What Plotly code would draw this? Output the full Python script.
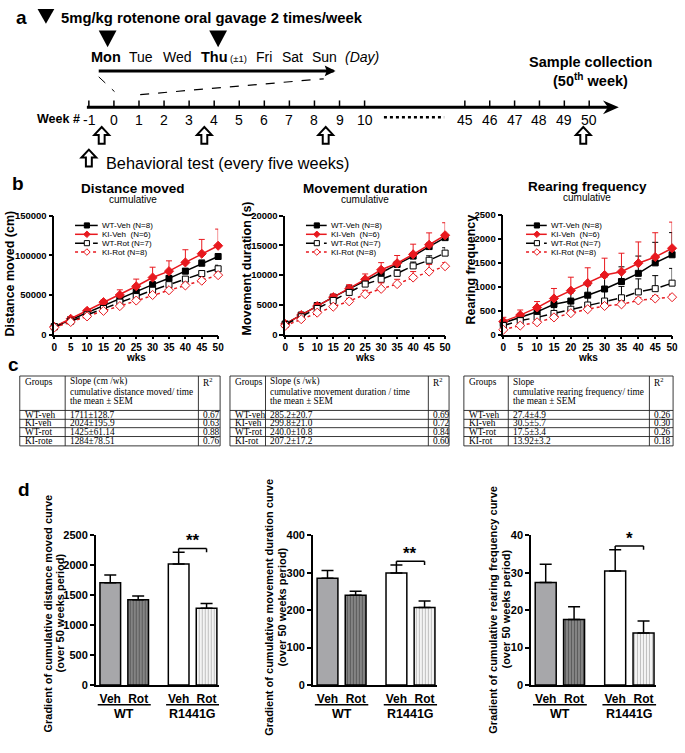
import plotly.graph_objects as go

W, H = 685, 753
def X(p): return p / W
def Y(p): return 1 - p / H

SANS = "Liberation Sans, Arial, Helvetica, sans-serif"
SERIF = "Liberation Serif, Times New Roman, serif"
RED = "#e8191f"

# ---------------- panel b data ----------------
weeks = [0, 5, 10, 15, 20, 25, 30, 35, 40, 45, 50]
series_names = ["WT-Veh (N=8)", "KI-Veh  (N=6)", "WT-Rot (N=7)", "KI-Rot (N=8)"]

dist_wt_veh = [10000, 19000, 28000, 37000, 46000, 54000, 63000, 71000, 80000, 90000, 98500]
dist_wt_veh_err = [800, 1000, 1500, 2000, 2500, 3000, 3000, 3500, 3500, 4000, 3500]
dist_ki_veh = [10000, 20000, 30000, 41000, 50000, 61000, 72000, 80000, 91000, 102000, 112000]
dist_ki_veh_err = [1000, 1500, 2000, 2500, 6500, 9000, 13000, 13000, 16000, 18000, 21000]
dist_wt_rot = [10000, 17000, 25000, 33000, 41000, 48000, 56000, 63000, 70000, 77000, 83000]
dist_wt_rot_err = [600, 800, 1000, 1500, 1500, 2000, 2500, 2500, 3000, 3500, 4500]
dist_ki_rot = [9000, 16000, 23000, 30000, 36000, 43000, 50000, 56000, 62000, 68000, 75000]
dist_ki_rot_err = [500, 800, 1000, 1500, 1500, 2000, 2000, 2500, 2500, 3000, 3000]

dur_wt_veh = [1800, 3300, 4900, 6300, 7700, 9000, 10400, 11800, 13200, 14800, 16300]
dur_wt_veh_err = [150, 200, 250, 300, 350, 400, 450, 500, 550, 600, 650]
dur_ki_veh = [1800, 3300, 4800, 6300, 7700, 9300, 10900, 12000, 13500, 15100, 16700]
dur_ki_veh_err = [200, 300, 400, 500, 700, 900, 1200, 1300, 1700, 2000, 2100]
dur_wt_rot = [1700, 3000, 4400, 5750, 7100, 8500, 9300, 10300, 11550, 12500, 13700]
dur_wt_rot_err = [150, 200, 250, 300, 400, 450, 550, 600, 650, 750, 900]
dur_ki_rot = [1500, 2600, 3700, 4700, 5600, 6800, 7700, 8500, 9600, 10600, 11500]
dur_ki_rot_err = [150, 200, 300, 400, 500, 650, 1000, 800, 1000, 1200, 600]

rear_wt_veh = [245, 360, 476, 632, 700, 822, 951, 1107, 1277, 1495, 1664]
rear_wt_veh_err = [50, 70, 90, 130, 170, 200, 250, 306, 360, 428, 462]
rear_ki_veh = [272, 408, 564, 754, 917, 1073, 1243, 1311, 1488, 1617, 1800]
rear_ki_veh_err = [90, 106, 126, 208, 280, 320, 350, 385, 443, 506, 544]
rear_wt_rot = [190, 292, 360, 442, 530, 618, 700, 768, 890, 958, 1073]
rear_wt_rot_err = [68, 68, 102, 122, 170, 184, 204, 237, 272, 272, 307]
rear_ki_rot = [102, 190, 258, 360, 448, 530, 598, 632, 713, 754, 781]
rear_ki_rot_err = [30, 35, 40, 45, 50, 50, 55, 55, 60, 60, 60]

# ---------------- panel c / d data ----------------
tbl1_groups = ["WT-veh", "KI-veh", "WT-rot", "KI-rote"]
tbl_groups = ["WT-veh", "KI-veh", "WT-rot", "KI-rot"]
dist_slope = [1711, 2024, 1425, 1284]
dist_sem = [128.7, 195.9, 61.14, 78.51]
dist_r2 = ["0.67", "0.63", "0.88", "0.76"]
dur_slope = ["285.2", "299.8", "240.0", "207.2"]
dur_sem = ["20.7", "21.0", "10.8", "17.2"]
dur_r2 = ["0.69", "0.72", "0.84", "0.60"]
rear_slope = ["27.4", "30.5", "17.5", "13.92"]
rear_sem = ["4.9", "5.7", "3.4", "3.2"]
rear_r2 = ["0.26", "0.30", "0.26", "0.18"]

bar_labels = ["Veh", "Rot", "Veh", "Rot"]
genotypes = ["WT", "R1441G"]
bar_order = [0, 2, 1, 3]   # table order -> WT-Veh, WT-Rot, KI-Veh, KI-Rot

week_labels = ["-1", "0", "1", "2", "3", "4", "5", "6", "7", "8", "9", "10",
               "45", "46", "47", "48", "49", "50"]
day_labels = ["Mon", "Tue", "Wed", "Thu", "Fri", "Sat", "Sun"]

fig = go.Figure()
shapes = []
ann = []

def text(x, y, t, size=12, bold=False, italic=False, xa="center", ya="middle",
         family=SANS, angle=0, color="black"):
    ann.append(dict(x=X(x), y=Y(y), xref="paper", yref="paper", text=t, align="left",
                    showarrow=False, xanchor=xa, yanchor=ya, textangle=angle,
                    font=dict(family=family, size=size, color=color,
                              weight="bold" if bold else "normal",
                              style="italic" if italic else "normal")))

def line(x0, y0, x1, y1, w=1.0, color="black", dash="solid"):
    shapes.append(dict(type="line", xref="paper", yref="paper", x0=X(x0), y0=Y(y0),
                       x1=X(x1), y1=Y(y1), line=dict(color=color, width=w, dash=dash)))

def poly(pts, fill="black", lw=0, lc="black"):
    path = "M " + " L ".join(f"{X(a):.5f},{Y(b):.5f}" for a, b in pts) + " Z"
    shapes.append(dict(type="path", xref="paper", yref="paper", path=path,
                       fillcolor=fill, line=dict(color=lc, width=lw)))

def up_arrow(cx, top, h=17, w=15, sw=6):
    hh = 8
    poly([(cx, top), (cx + w / 2, top + hh), (cx + sw / 2, top + hh), (cx + sw / 2, top + h),
          (cx - sw / 2, top + h), (cx - sw / 2, top + hh), (cx - w / 2, top + hh)],
         fill="white", lw=2)

# ======================= panel a =======================
text(19, 12, "a", 19, True)
poly([(35, 3), (52, 3), (43.5, 18)])
text(57, 12, "5mg/kg rotenone oral gavage 2 times/week", 14.8, True, xa="left")
poly([(97, 25), (115, 25), (106, 42)])
poly([(209, 25), (227, 25), (218, 42)])
day_x = [104.5, 140, 177, 214, 264.5, 293, 325.5]
for lab, dx in zip(day_labels, day_x):
    isb = lab in ("Mon", "Thu")
    text(dx, 52, lab, 14.5 if isb else 14, isb)
text(228, 53, "(±1)", 9.5, xa="left")
text(364, 52, "(Day)", 14, italic=True)
line(97, 66, 335, 66, 3)
poly([(326, 60.5), (337, 66), (326, 71.5), (328, 66)])
line(97, 72, 113, 87, 1, dash="dash")
line(139, 90, 325, 74, 1.2, dash="dash")
# timeline
line(85, 103, 618, 103, 3)
poly([(608, 96), (624, 103), (608, 110), (613, 103)])
week_x = [87 + 25.4 * i for i in range(12)] + [468 + 25.2 * i for i in range(6)]
for lab, wx in zip(week_labels, week_x):
    line(wx, 96, wx, 103, 1.5)
    text(wx + (1 if lab == "-1" else 0), 116, lab, 14)
text(80, 115, "Week #", 12.5, True, xa="right")
line(386, 113, 447, 113, 2.5, dash="dot")
for ax_ in [100, 204, 327, 588]:
    up_arrow(ax_, 123)
up_arrow(87, 146)
text(102, 160, "Behavioral test (every five weeks)", 16.3, xa="left")
text(595, 57, "Sample collection", 14.5, True)
text(595, 75, "(50<sup>th</sup> week)", 14.5, True)

# ======================= panel b =======================
text(15, 180, "b", 19, True)

def axis_style(**kw):
    d = dict(showline=True, linecolor="black", linewidth=1.5, ticks="outside", ticklen=4,
             tickwidth=1.5, tickcolor="black", showgrid=False, zeroline=False,
             fixedrange=True, tickfont=dict(family=SANS, size=10, color="black", weight="bold"))
    d.update(kw)
    return d

line_panels = [
    dict(xd=(52, 218), yd=(213, 334), rng=150000, dt=50000, title="Distance moved",
         ytitle="Distance moved (cm)", ytx=7, yty=272, tcx=132,
         data=[(dist_wt_veh, dist_wt_veh_err), (dist_ki_veh, dist_ki_veh_err),
               (dist_wt_rot, dist_wt_rot_err), (dist_ki_rot, dist_ki_rot_err)], leg=(73, 97)),
    dict(xd=(286, 448), yd=(213, 334), rng=20000, dt=5000, title="Movement duration",
         ytitle="Movement duration (s)", ytx=247, yty=267, tcx=367,
         data=[(dur_wt_veh, dur_wt_veh_err), (dur_ki_veh, dur_ki_veh_err),
               (dur_wt_rot, dur_wt_rot_err), (dur_ki_rot, dur_ki_rot_err)], leg=(307, 329)),
    dict(xd=(507, 678), yd=(212, 334), rng=2500, dt=500, title="Rearing frequency",
         ytitle="Rearing frequency", ytx=474, yty=268, tcx=592,
         data=[(rear_wt_veh, rear_wt_veh_err), (rear_ki_veh, rear_ki_veh_err),
               (rear_wt_rot, rear_wt_rot_err), (rear_ki_rot, rear_ki_rot_err)], leg=(530, 552)),
]
styles = [
    dict(color="black", dash="solid", symbol="square", fill="black", size=6),
    dict(color=RED, dash="solid", symbol="diamond", fill=RED, size=7),
    dict(color="black", dash="dash", symbol="square", fill="white", size=6),
    dict(color=RED, dash="dot", symbol="diamond", fill="white", size=7),
]

layout_axes = {}
for i, p in enumerate(line_panels, start=1):
    xa, ya = ("x" if i == 1 else f"x{i}"), ("y" if i == 1 else f"y{i}")
    for (vals, errs), st in zip(p["data"], styles):
        fig.add_trace(go.Scatter(
            x=weeks, y=vals, xaxis=xa, yaxis=ya, mode="lines+markers", showlegend=False,
            cliponaxis=False,
            line=dict(color=st["color"], width=1.5, dash=st["dash"]),
            marker=dict(symbol=st["symbol"], size=st["size"], color=st["fill"],
                        line=dict(color=st["color"], width=1)),
            error_y=dict(type="data", array=errs, arrayminus=[0] * len(errs), symmetric=False,
                         color=st["color"], thickness=1, width=3)))
    layout_axes["xaxis" if i == 1 else f"xaxis{i}"] = axis_style(
        domain=[X(p["xd"][0]), X(p["xd"][1])], anchor=ya, range=[0, 50], tickvals=weeks,
        ticklen=3)
    layout_axes["yaxis" if i == 1 else f"yaxis{i}"] = axis_style(
        domain=[Y(p["yd"][1]), Y(p["yd"][0])], anchor=xa, range=[0, p["rng"]],
        tickvals=list(range(0, p["rng"] + 1, p["dt"])), tickformat="d",
        tickfont=dict(family=SANS, size=9.5, color="black", weight="bold"))
    cy_t = 185 if i < 3 else 183
    text(p["tcx"], cy_t, p["title"], 13.5, True)
    text(p["tcx"], cy_t + 12, "cumulative", 10)
    text(p["ytx"], p["yty"], p["ytitle"], 12.5, True, angle=-90)
    text((p["xd"][0] + p["xd"][1]) / 2, 357, "wks", 10, True)
    # legend
    lx0, tx = p["leg"]
    for k, (nm, st) in enumerate(zip(series_names, styles)):
        ry = 223 + 9 * k
        line(lx0, ry, tx - 1, ry, 1.5, st["color"], st["dash"])
        cx = (lx0 + tx) / 2
        if st["symbol"] == "square":
            poly([(cx - 2.6, ry - 2.6), (cx + 2.6, ry - 2.6), (cx + 2.6, ry + 2.6), (cx - 2.6, ry + 2.6)],
                 fill=st["fill"], lw=1, lc=st["color"])
        else:
            poly([(cx, ry - 3.3), (cx + 3.3, ry), (cx, ry + 3.3), (cx - 3.3, ry)],
                 fill=st["fill"], lw=1, lc=st["color"])
        text(tx + 1, ry, nm, 8, xa="left")

# ======================= panel c =======================
text(11, 364, "c", 19, True)
tables = [
    dict(cols=(17, 63, 198, 220), groups=tbl1_groups,
         head=["Slope (cm /wk)", "cumulative distance moved/ time", "the mean ± SEM"],
         vals=[f"{m}±{s}" for m, s in zip(dist_slope, dist_sem)], r2=dist_r2),
    dict(cols=(230, 266, 431, 452), groups=tbl_groups,
         head=["Slope (s /wk)", "cumulative movement duration / time", "the mean ± SEM"],
         vals=[f"{m}±{s}" for m, s in zip(dur_slope, dur_sem)], r2=dur_r2),
    dict(cols=(467, 512, 655, 679), groups=tbl_groups,
         head=["Slope", "cumulative rearing frequency/ time", "the mean ± SEM"],
         vals=[f"{m}±{s}" for m, s in zip(rear_slope, rear_sem)], r2=rear_r2),
]
row_edges = [376, 411, 420, 428.5, 437.5, 447]
head_y = [382, 392, 401.5]
TF = 9.3
for t in tables:
    c0, c1, c2, c3 = t["cols"]
    for ry in row_edges:
        line(c0, ry, c3, ry, 0.9, "#222")
    for cx in t["cols"]:
        line(cx, row_edges[0], cx, row_edges[-1], 0.9, "#222")
    text(c0 + 3, head_y[0], "Groups", TF, family=SERIF, xa="left")
    for hy, ht in zip(head_y, t["head"]):
        text(c1 + 3, hy, ht, TF, family=SERIF, xa="left")
    text(c2 + 3, head_y[0], "R<sup>2</sup>", TF, family=SERIF, xa="left")
    for k in range(4):
        cy = (row_edges[k + 1] + row_edges[k + 2]) / 2
        text(c0 + 3, cy, t["groups"][k], TF, family=SERIF, xa="left")
        text(c1 + 3, cy, t["vals"][k], TF, family=SERIF, xa="left")
        text(c2 + 3, cy, t["r2"][k], TF, family=SERIF, xa="left")

# ======================= panel d =======================
text(21, 491, "d", 19, True)
bar_pos = [0, 1, 2.45, 3.45]
xrange_bar = [-0.52, 3.9]
bar_fill = ["#a7a7aa", "#8c8c8c", "#ffffff", "#ffffff"]
pat_shape = ["", "|", "", "|"]
pat_fg = ["#a7a7aa", "#2a2a2a", "#ffffff", "#808080"]

bar_panels = [
    dict(xd=(94, 219), rng=2500, dt=500, means=dist_slope, sems=dist_sem, stars="**",
         ytitle=["Gradient of cumulative distance moved curve", "(over 50 weeks period)"],
         ytx=(46, 58), yty=617),
    dict(xd=(314, 440), rng=400, dt=100, means=[float(v) for v in dur_slope],
         sems=[float(v) for v in dur_sem], stars="**",
         ytitle=["Gradient of cumulative movement duration curve", "(over 50 weeks period)"],
         ytx=(270, 283), yty=611),
    dict(xd=(535, 662), rng=40, dt=10, means=[float(v) for v in rear_slope],
         sems=[float(v) for v in rear_sem], stars="*",
         ytitle=["Gradient of cumulative rearing frequency curve", "(over 50 weeks period)"],
         ytx=(497, 510), yty=613),
]
for j, p in enumerate(bar_panels, start=4):
    xa, ya = f"x{j}", f"y{j}"
    means = [p["means"][k] for k in bar_order]
    sems = [p["sems"][k] for k in bar_order]
    for k in range(4):
        fig.add_trace(go.Bar(
            x=[bar_pos[k]], y=[means[k]], width=0.74, xaxis=xa, yaxis=ya, showlegend=False,
            marker=dict(color=bar_fill[k], line=dict(color="black", width=1.5),
                        pattern=dict(shape=pat_shape[k], fgcolor=pat_fg[k], bgcolor=bar_fill[k],
                                     size=3, solidity=0.45, fillmode="overlay")),
            error_y=dict(type="data", array=[sems[k]], arrayminus=[0], symmetric=False,
                         color="black", thickness=1.5, width=6)))
    layout_axes[f"xaxis{j}"] = axis_style(
        domain=[X(p["xd"][0]), X(p["xd"][1])], anchor=ya, range=xrange_bar,
        tickvals=bar_pos, ticktext=bar_labels, ticks="", ticklabelstandoff=2,
        tickfont=dict(family=SANS, size=12, color="black", weight="bold"))
    layout_axes[f"yaxis{j}"] = axis_style(
        domain=[Y(690), Y(538)], anchor=xa, range=[0, p["rng"]],
        tickvals=list(range(0, p["rng"] + 1, p["dt"])), tickformat="d",
        tickfont=dict(family=SANS, size=11, color="black", weight="bold"))
    # group underline + labels
    for g, (a, b) in enumerate([(0, 1), (2, 3)]):
        x0, x1 = bar_pos[a] - 0.45, bar_pos[b] + 0.45
        shapes.append(dict(type="line", xref=xa, yref="paper", x0=x0, x1=x1,
                           y0=Y(710), y1=Y(710), line=dict(color="black", width=1.5)))
        ann.append(dict(x=(bar_pos[a] + bar_pos[b]) / 2, y=Y(719), xref=xa, yref="paper",
                        text=genotypes[g], showarrow=False, xanchor="center", yanchor="middle",
                        font=dict(family=SANS, size=12.5, color="black", weight="bold")))
    # significance bracket
    top = means[2] + sems[2]
    yb = top + 0.025 * p["rng"]
    tick = 0.025 * p["rng"]
    for (x0, y0, x1, y1) in [(bar_pos[2], yb, bar_pos[3], yb),
                             (bar_pos[2], yb, bar_pos[2], yb - tick),
                             (bar_pos[3], yb, bar_pos[3], yb - tick)]:
        shapes.append(dict(type="line", xref=xa, yref=ya, x0=x0, y0=y0, x1=x1, y1=y1,
                           line=dict(color="black", width=1.5)))
    ann.append(dict(x=(bar_pos[2] + bar_pos[3]) / 2, y=yb, xref=xa, yref=ya, text=p["stars"],
                    showarrow=False, xanchor="center", yanchor="bottom", yshift=-4,
                    font=dict(family=SANS, size=17, color="black", weight="bold")))
    for lt, lx in zip(p["ytitle"], p["ytx"]):
        text(lx, p["yty"], lt, 11, True, angle=-90)

fig.update_layout(
    width=W, height=H, margin=dict(l=0, r=0, t=0, b=0), barmode="overlay",
    paper_bgcolor="white", plot_bgcolor="white", showlegend=False,
    shapes=shapes, annotations=ann, **layout_axes)

fig.write_html("out.html", config={"displayModeBar": False},
               post_script="document.body.style.margin='0px';")
